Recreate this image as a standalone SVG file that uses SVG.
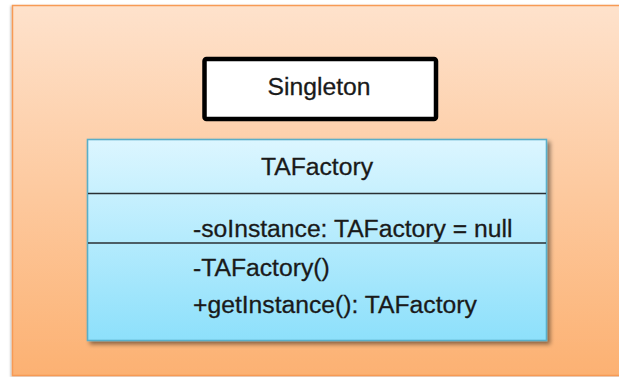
<svg xmlns="http://www.w3.org/2000/svg" width="619" height="377" viewBox="0 0 619 377">
  <defs>
    <linearGradient id="bgGrad" x1="0" y1="0" x2="0" y2="1">
      <stop offset="0" stop-color="#fee2cc"/>
      <stop offset="1" stop-color="#fcb172"/>
    </linearGradient>
    <linearGradient id="classGrad" x1="0" y1="0" x2="0" y2="1">
      <stop offset="0" stop-color="#dcf6ff"/>
      <stop offset="1" stop-color="#8de0fb"/>
    </linearGradient>
    <filter id="shadow" x="-10%" y="-10%" width="125%" height="130%">
      <feDropShadow dx="3" dy="3" stdDeviation="2" flood-color="#000" flood-opacity="0.45"/>
    </filter>
    <filter id="softShadow" x="-10%" y="-10%" width="120%" height="120%">
      <feDropShadow dx="-1" dy="1" stdDeviation="1.2" flood-color="#000" flood-opacity="0.3"/>
    </filter>
  </defs>
  <style>
    .txt { font-family: "Liberation Sans", Arial, sans-serif; font-size: 24.7px; fill: #1a1a1a; stroke: #1a1a1a; stroke-width: 0.3; }
    .mid { text-anchor: middle; }
    .divider { stroke: #2a2f33; stroke-width: 1.6; }
  </style>
  <rect width="619" height="377" fill="#ffffff"/>
  <g id="frame">
    <rect x="12.5" y="5.5" width="612" height="370" fill="url(#bgGrad)" stroke="#f79a55" stroke-width="1.5" filter="url(#softShadow)"/>
  </g>
  <g id="singleton">
    <rect x="204.5" y="59" width="231.5" height="60" rx="2" fill="#ffffff" stroke="#000000" stroke-width="4.5"/>
    <text class="txt mid" x="319" y="95">Singleton</text>
  </g>
  <g id="tafactory">
    <rect x="87.5" y="139.5" width="459" height="201" fill="url(#classGrad)" stroke="#5aaec8" stroke-width="1.6" filter="url(#shadow)"/>
    <line class="divider" x1="88" y1="193.5" x2="546" y2="193.5"/>
    <line class="divider" x1="88" y1="243" x2="546" y2="243"/>
    <text class="txt mid" x="317" y="175">TAFactory</text>
    <text class="txt" x="193" y="236.5">-soInstance: TAFactory = null</text>
    <text class="txt" x="193" y="276">-TAFactory()</text>
    <text class="txt" x="193" y="313">+getInstance(): TAFactory</text>
  </g>
</svg>
